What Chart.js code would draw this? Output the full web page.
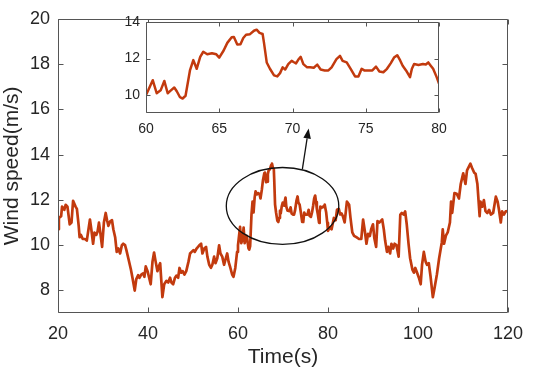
<!DOCTYPE html>
<html><head><meta charset="utf-8">
<script src="https://cdn.jsdelivr.net/npm/chart.js@4/dist/chart.umd.min.js"></script>
<style>
html,body{margin:0;padding:0;background:#fff;}
#wrap{position:relative;width:533px;height:377px;overflow:hidden;}
#main{position:absolute;left:0;top:0;}
#inset{position:absolute;left:100px;top:8px;}
</style></head><body>
<div id="wrap"><canvas id="main" width="533" height="377"></canvas><canvas id="inset" width="355" height="135"></canvas></div>
<script>
// ---- data ----
const time = [
20.0,20.2,20.7,20.9,21.4,21.7,22.1,22.6,23.0,23.35,23.9,24.2,24.6,24.8,25.1,25.5,26.0,26.4,27.1,27.4,27.8,28.1,28.5,28.8,29.1,29.4,29.8,
30.2,30.6,30.9,31.2,31.6,32.0,32.3,32.7,33.05,33.4,33.8,34.2,34.5,34.9,35.2,35.7,36.2,36.6,37.05,37.4,37.8,38.1,38.5,38.9,39.2,39.5,39.9,
40.2,40.6,41.0,41.35,41.7,42.1,42.4,42.7,43.2,43.6,44.1,44.5,44.9,45.2,45.6,46.0,46.3,46.7,47.0,47.4,47.7,48.1,48.5,49.0,49.35,49.7,
50.1,50.4,50.8,51.4,51.8,52.1,52.5,52.9,53.2,53.6,54.0,54.3,54.7,55.0,55.4,55.8,56.1,56.5,56.9,57.2,57.6,57.9,58.3,58.7,59.0,59.4,59.8,
60.0,60.16,60.46,60.73,61.0,61.25,61.48,61.7,61.93,62.1,62.32,62.5,62.7,63.0,63.23,63.46,63.7,63.91,64.18,64.5,64.8,65.0,65.3,65.55,65.85,
66.0,66.23,66.45,66.64,66.83,67.1,67.37,67.55,67.75,67.96,68.05,68.24,68.46,68.74,68.96,69.15,69.33,69.5,69.71,69.94,
70.1,70.24,70.4,70.56,70.74,71.0,71.2,71.45,71.69,71.92,72.2,72.45,72.67,73.0,73.24,73.42,73.7,73.97,74.27,74.5,74.72,74.9,
75.2,75.45,75.7,75.93,76.2,76.45,76.7,76.93,77.15,77.35,77.52,77.75,78.02,78.15,78.3,78.6,78.9,79.1,79.27,79.45,79.6,79.84,80.0,
80.4,80.8,81.3,81.7,82.0,82.4,82.7,83.0,83.3,83.7,84.2,84.7,85.0,85.4,85.8,86.3,86.9,87.4,87.8,88.2,88.55,88.9,89.3,89.6,
90.0,90.3,90.7,91.0,91.4,91.7,92.05,92.4,92.7,93.1,93.4,93.8,94.1,94.5,94.8,95.2,95.7,96.07,96.4,96.8,97.15,97.5,97.9,98.25,98.76,99.1,99.4,99.8,
100.2,100.6,100.9,101.3,101.7,102.0,102.4,102.8,103.3,103.7,104.2,104.7,105.3,105.5,105.8,106.2,106.6,107.1,107.35,107.6,108.1,108.6,109.1,109.5,
110.05,110.55,110.9,111.65,112.0,112.5,112.8,113.2,113.7,113.9,114.3,114.65,115.0,115.4,115.8,116.2,116.7,117.3,117.7,118.0,118.4,118.7,119.1,119.5,120.0
];
const speed = [
10.7,11.2,11.28,11.7,11.56,11.78,11.7,10.92,11.0,11.96,11.7,11.6,10.85,10.35,10.45,10.27,10.27,10.2,11.13,10.7,10.06,10.55,10.45,10.6,10.99,10.55,9.92,
11.0,11.42,11.1,10.85,11.05,11.1,10.7,10.35,9.7,9.85,9.63,10.0,10.06,10.0,9.78,9.35,8.92,8.5,7.99,8.5,8.67,8.55,8.7,8.75,8.6,9.06,8.85,
8.6,8.27,9.27,9.67,9.27,8.85,9.05,9.2,7.7,8.27,8.42,8.35,8.56,8.35,8.27,8.56,8.65,8.56,8.99,8.78,8.85,8.7,8.85,9.27,9.63,9.7,
9.78,9.7,9.85,9.99,10.06,9.63,9.85,9.92,9.49,9.13,9.0,9.13,9.49,9.2,9.42,9.99,9.63,9.49,9.13,9.35,9.63,9.27,9.0,8.7,8.6,8.99,9.7,
10.0,10.27,10.81,10.09,10.25,10.77,10.09,10.25,10.41,10.2,9.87,9.8,9.95,11.35,11.92,11.44,12.1,12.38,12.24,12.3,12.24,12.06,12.45,12.87,13.18,
13.2,12.78,12.8,13.14,13.32,13.35,13.54,13.6,13.42,13.36,12.9,11.79,11.44,11.08,11.02,11.2,11.52,11.4,11.7,11.88,
11.8,11.74,11.95,12.1,11.7,11.52,11.52,11.5,11.67,11.4,11.35,11.35,11.52,11.97,12.15,11.88,11.79,11.44,11.02,11.02,11.44,11.35,
11.35,11.35,11.56,11.29,11.25,11.44,11.74,12.06,12.19,11.9,11.61,11.35,10.98,11.44,11.7,11.65,11.7,11.68,11.79,11.6,11.44,10.98,10.63,
10.78,10.7,11.2,11.1,11.56,11.6,11.35,11.4,11.28,11.0,11.92,11.78,11.2,10.56,10.41,10.35,10.27,10.27,11.13,10.6,10.06,10.5,10.4,10.7,
10.92,10.3,9.92,11.06,11.0,11.06,11.13,10.7,10.2,9.7,9.92,9.63,10.06,9.85,10.06,10.0,9.49,11.35,11.42,11.35,11.49,10.92,10.06,9.42,8.92,8.78,8.99,8.78,
8.56,8.27,9.13,9.7,9.27,9.13,9.2,8.6,7.7,8.13,8.7,9.42,10.13,10.7,10.06,10.42,10.56,11.0,11.92,11.42,12.3,12.27,12.06,12.7,
13.17,12.7,13.3,13.6,13.42,13.2,13.15,12.7,11.28,11.92,11.7,11.99,11.5,11.42,11.56,11.35,11.42,12.14,11.92,11.56,11.0,11.49,11.35,11.49,11.5
];
const xTicks = [20, 40, 60, 80, 100, 120];
const yTicks = [8, 10, 12, 14, 16, 18, 20];
const insetXTicks = [60, 65, 70, 75, 80];
const insetYTicks = [10, 12, 14];
const xTitle = 'Time(s)';
const yTitle = 'Wind speed(m/s)';
// annotation (ellipse around the zoomed region + arrow), in data units
const highlight = {cx: 69.9, cy: 11.73, rx: 12.5, ry: 1.7};
const arrow = {x0: 74.3, y0: 13.35, x1: 75.7, y1: 15.15};

// ---- styles ----
const lineColor = '#C23A0E';
const textColor = '#262626';
const axisColor = '#555555';
const FONT = "'Liberation Sans', Arial, Helvetica, sans-serif";

function framePlugin(tickLen) {
  return {
    id: 'frame',
    beforeDraw(chart) {
      const {ctx, chartArea: a} = chart;
      ctx.save(); ctx.fillStyle = '#fff';
      ctx.fillRect(a.left, a.top, a.right - a.left, a.bottom - a.top);
      ctx.restore();
    },
    afterDatasetsDraw(chart) {
      const {ctx, chartArea: a, scales: {x, y}} = chart;
      ctx.save();
      ctx.strokeStyle = axisColor; ctx.lineWidth = 1;
      const L = Math.round(a.left) + 0.5, R = Math.round(a.right) - 0.5;
      const T = Math.round(a.top) + 0.5, B = Math.round(a.bottom) - 0.5;
      ctx.beginPath();
      ctx.rect(L, T, R - L, B - T);
      x.ticks.forEach(t => {
        const p = Math.round(x.getPixelForValue(t.value)) + 0.5;
        ctx.moveTo(p, B); ctx.lineTo(p, B - tickLen);
        ctx.moveTo(p, T); ctx.lineTo(p, T + tickLen);
      });
      y.ticks.forEach(t => {
        const p = Math.round(y.getPixelForValue(t.value)) + 0.5;
        ctx.moveTo(L, p); ctx.lineTo(L + tickLen, p);
        ctx.moveTo(R, p); ctx.lineTo(R - tickLen, p);
      });
      ctx.stroke();
      ctx.restore();
    }
  };
}

const annotationPlugin = {
  id: 'annot',
  afterDatasetsDraw(chart) {
    const {ctx, scales: {x, y}} = chart;
    ctx.save();
    ctx.strokeStyle = '#111'; ctx.fillStyle = '#111'; ctx.lineWidth = 1.3;
    const cx = x.getPixelForValue(highlight.cx), cy = y.getPixelForValue(highlight.cy);
    const rx = Math.abs(x.getPixelForValue(highlight.cx + highlight.rx) - cx);
    const ry = Math.abs(y.getPixelForValue(highlight.cy + highlight.ry) - cy);
    ctx.beginPath(); ctx.ellipse(cx, cy, rx, ry, 0, 0, Math.PI * 2); ctx.stroke();
    const x0 = x.getPixelForValue(arrow.x0), y0 = y.getPixelForValue(arrow.y0);
    const x1 = x.getPixelForValue(arrow.x1), y1 = y.getPixelForValue(arrow.y1);
    const ang = Math.atan2(y1 - y0, x1 - x0), hl = 10, hw = 3.8;
    const bx = x1 - hl * Math.cos(ang), by = y1 - hl * Math.sin(ang);
    ctx.beginPath(); ctx.moveTo(x0, y0); ctx.lineTo(bx, by); ctx.stroke();
    ctx.beginPath();
    ctx.moveTo(x1, y1);
    ctx.lineTo(bx + hw * Math.sin(ang), by - hw * Math.cos(ang));
    ctx.lineTo(bx - hw * Math.sin(ang), by + hw * Math.cos(ang));
    ctx.closePath(); ctx.fill();
    ctx.restore();
  }
};

const points = time.map((t, i) => ({x: t, y: speed[i]}));
const insetPoints = points.filter(p => p.x >= 60 && p.x <= 80);

function dataset(data, w) {
  return {data, borderColor: lineColor, borderWidth: w, pointRadius: 0, tension: 0,
          borderJoinStyle: 'round', borderCapStyle: 'round', fill: false};
}

new Chart(document.getElementById('main'), {
  type: 'line',
  data: {datasets: [dataset(points, 2.7)]},
  options: {
    responsive: false, animation: false, devicePixelRatio: 1,
    layout: {padding: {left: 0, top: 10, right: 18, bottom: 0}},
    plugins: {legend: {display: false}, tooltip: {enabled: false}},
    scales: {
      x: {
        type: 'linear', min: 20, max: 120,
        afterBuildTicks: s => { s.ticks = xTicks.map(v => ({value: v})); },
        afterFit: s => { s.height = 64; },
        grid: {display: false, drawTicks: false}, border: {display: false},
        ticks: {padding: 10, color: textColor, font: {family: FONT, size: 18}, maxRotation: 0},
        title: {display: true, text: xTitle, color: textColor, font: {family: FONT, size: 21, lineHeight: 1.2}, padding: {top: 0, bottom: 7}}
      },
      y: {
        type: 'linear', min: 7, max: 20,
        afterBuildTicks: s => { s.ticks = yTicks.map(v => ({value: v})); },
        afterFit: s => { s.width = 58; },
        grid: {display: false, drawTicks: false}, border: {display: false},
        ticks: {padding: 8, color: textColor, font: {family: FONT, size: 18}},
        title: {display: true, text: yTitle, color: textColor, font: {family: FONT, size: 21, lineHeight: 1.2}, padding: {top: 0, bottom: 0}}
      }
    }
  },
  plugins: [framePlugin(5), annotationPlugin]
});

new Chart(document.getElementById('inset'), {
  type: 'line',
  data: {datasets: [dataset(insetPoints, 2.5)]},
  options: {
    responsive: false, animation: false, devicePixelRatio: 1,
    layout: {padding: {left: 0, top: 12.5, right: 16, bottom: 0}},
    plugins: {legend: {display: false}, tooltip: {enabled: false}},
    scales: {
      x: {
        type: 'linear', min: 60, max: 80,
        afterBuildTicks: s => { s.ticks = insetXTicks.map(v => ({value: v})); },
        afterFit: s => { s.height = 30; },
        grid: {display: false, drawTicks: false}, border: {display: false},
        ticks: {padding: 8, color: textColor, font: {family: FONT, size: 14}, maxRotation: 0}
      },
      y: {
        type: 'linear', min: 9, max: 14,
        afterBuildTicks: s => { s.ticks = insetYTicks.map(v => ({value: v})); },
        afterFit: s => { s.width = 46; },
        grid: {display: false, drawTicks: false}, border: {display: false},
        ticks: {padding: 6, color: textColor, font: {family: FONT, size: 14}}
      }
    }
  },
  plugins: [framePlugin(4)]
});
</script>
</body></html>
